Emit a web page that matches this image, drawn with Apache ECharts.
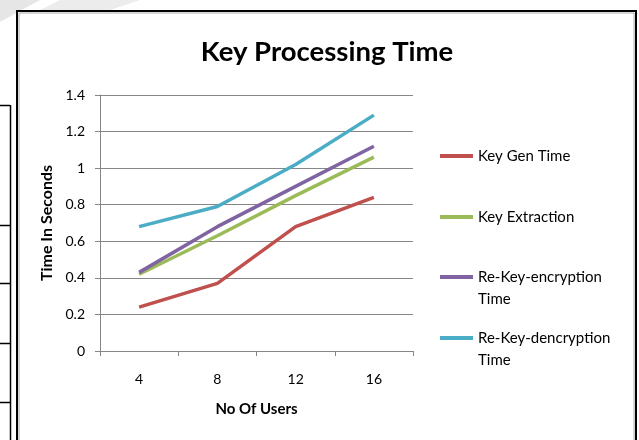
<!DOCTYPE html>
<html><head><meta charset="utf-8">
<script src="https://cdn.jsdelivr.net/npm/echarts@6/dist/echarts.min.js"></script>
<style>html,body{margin:0;padding:0;background:#fff}#c{width:639px;height:440px}</style>
</head><body><div id="c"></div>
<script>
const categories = ['4', '8', '12', '16'];
const keyGen = [0.24, 0.37, 0.68, 0.84];
const keyExtraction = [0.42, 0.63, 0.85, 1.06];
const reKeyEnc = [0.43, 0.68, 0.90, 1.12];
const reKeyDec = [0.68, 0.79, 1.02, 1.29];
const seriesNames = ['Key Gen Time', 'Key Extraction', 'Re-Key-encryption Time', 'Re-Key-dencryption Time'];
const legendLabels = ['Key Gen Time', 'Key Extraction', ' \nRe-Key-encryption\nTime', ' \nRe-Key-dencryption\nTime'];
const colors = ['#C0504D', '#9BBB59', '#8064A2', '#4BACC6'];
const seriesData = [keyGen, keyExtraction, reKeyEnc, reKeyDec];

const FONT = 'Lato, "Open Sans", sans-serif';
const chart = echarts.init(document.getElementById('c'), null, {renderer: 'canvas'});
const legendCenters = [156, 217, 277, 338];
const LH = 22;
const legends = seriesNames.map((n, i) => {
  const multi = legendLabels[i].includes('\n');
  const h = multi ? 3 * LH : LH;
  return {
    left: 440, top: legendCenters[i] - h / 2, orient: 'vertical', padding: 0,
    data: [n], icon: 'rect', itemWidth: 33, itemHeight: 4,
    selectedMode: false,
    formatter: () => legendLabels[i],
    textStyle: {fontFamily: FONT, fontSize: 15, color: '#000', lineHeight: LH}
  };
});
chart.setOption({
  animation: false,
  title: {text: 'Key Processing Time', left: 322, textAlign: 'center', top: 33,
    textStyle: {fontFamily: FONT, fontWeight: 'bold', fontSize: 27.5, color: '#000'}},
  legend: legends,
  grid: {left: 100, right: 226, top: 95, bottom: 89},
  xAxis: {type: 'category', data: categories, boundaryGap: true,
    name: 'No Of Users', nameLocation: 'middle', nameGap: 51,
    nameTextStyle: {fontFamily: FONT, fontWeight: 'bold', fontSize: 15, color: '#000'},
    axisLine: {lineStyle: {color: '#868686', width: 1}},
    axisTick: {show: true, length: 5, lineStyle: {color: '#868686'}},
    axisLabel: {fontFamily: FONT, fontSize: 14, color: '#000', margin: 21}},
  yAxis: {type: 'value', min: 0, max: 1.4, interval: 0.2,
    name: 'Time In Seconds', nameLocation: 'middle', nameGap: 45,
    nameTextStyle: {fontFamily: FONT, fontWeight: 'bold', fontSize: 16, color: '#000'},
    axisLine: {show: true, lineStyle: {color: '#868686', width: 1}},
    axisTick: {show: true, length: 5, lineStyle: {color: '#868686'}},
    splitLine: {lineStyle: {color: '#868686', width: 1}},
    axisLabel: {fontFamily: FONT, fontSize: 14, color: '#000', margin: 15}},
  series: seriesNames.map((n, i) => ({
    name: n, type: 'line', data: seriesData[i], symbol: 'none',
    lineStyle: {color: colors[i], width: 3.5}, itemStyle: {color: colors[i]}
  })),
  graphic: [
    {type: 'polygon', shape: {points: [[0,0],[40,0],[0,22]]}, style: {fill: '#e6e6e6'}, silent: true, z: -1},
    {type: 'polygon', shape: {points: [[60,0],[140,0],[110,10],[40,10]]}, style: {fill: '#ececec'}, silent: true, z: -1},
    {type: 'rect', shape: {x: 17, y: 11, width: 619, height: 440}, style: {fill: 'none', stroke: '#000', lineWidth: 2}, silent: true},
    {type: 'rect', shape: {x: 19, y: 13, width: 615, height: 440}, style: {fill: 'none', stroke: '#aaa', lineWidth: 1}, silent: true},
    {type: 'line', shape: {x1: 0, y1: 105.5, x2: 10, y2: 105.5}, style: {stroke: '#000', lineWidth: 1.5}},
    {type: 'line', shape: {x1: 10.5, y1: 105, x2: 10.5, y2: 440}, style: {stroke: '#000', lineWidth: 1.5}},
    {type: 'line', shape: {x1: 0, y1: 225.5, x2: 10, y2: 225.5}, style: {stroke: '#000', lineWidth: 1.5}},
    {type: 'line', shape: {x1: 0, y1: 283.5, x2: 10, y2: 283.5}, style: {stroke: '#000', lineWidth: 1.5}},
    {type: 'line', shape: {x1: 0, y1: 343.5, x2: 10, y2: 343.5}, style: {stroke: '#000', lineWidth: 1.5}},
    {type: 'line', shape: {x1: 0, y1: 402.5, x2: 10, y2: 402.5}, style: {stroke: '#000', lineWidth: 1.5}}
  ]
});
</script></body></html>
